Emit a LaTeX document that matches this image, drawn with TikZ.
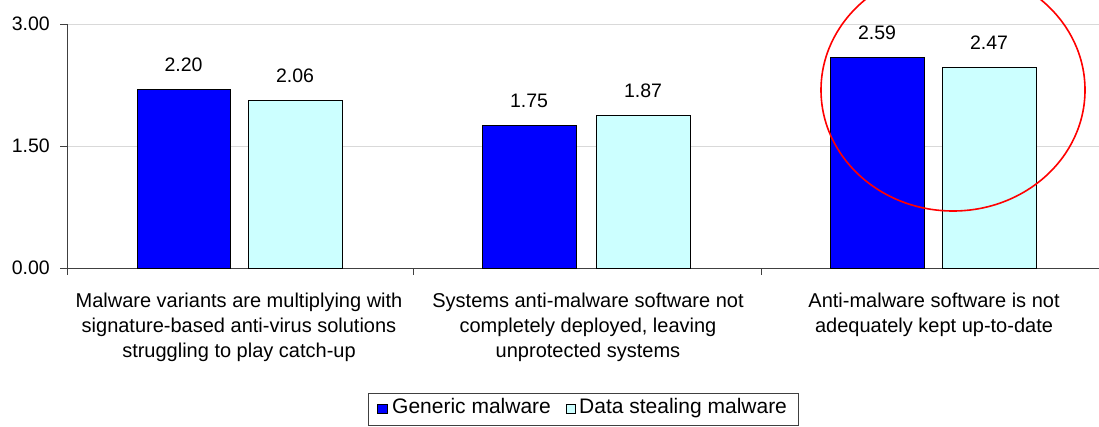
\documentclass[tikz,border=0pt]{standalone}
\usepackage{fontspec}
\setmainfont{Liberation Sans}
\definecolor{generic}{HTML}{0000FF}
\definecolor{stealing}{HTML}{CCFFFF}
\definecolor{gridgray}{HTML}{D9D9D9}
\tikzset{
gridline/.style={draw=gridgray, line width=1pt},
axisline/.style={draw=black!75, line width=1pt},
genericbar/.style={draw=black, line width=1pt, fill=generic},
stealingbar/.style={draw=black, line width=1pt, fill=stealing},
valuelabel/.style={anchor=base, inner sep=0pt, font=\fontsize{19.5}{24}\selectfont},
ticklabel/.style={anchor=east, inner sep=0pt, font=\fontsize{19.5}{24}\selectfont},
catlabel/.style={anchor=north, inner sep=0pt, align=center, font=\fontsize{20}{25}\selectfont},
legendtext/.style={anchor=base west, inner sep=0pt, font=\fontsize{21}{24}\selectfont}
}

\begin{document}
\begin{tikzpicture}[x=1pt, y=-1pt]
  \useasboundingbox (0,0) rectangle (1099,426);
  % grid and axes
  \draw[gridline] (67,24) -- (1099,24);
  \draw[gridline] (67,146) -- (1099,146);
  \draw[axisline] (67,24) -- (67,275);
  \draw[axisline] (67,268) -- (1099,268);
  \draw[axisline] (60,24) -- (67,24);
  \draw[axisline] (60,146) -- (67,146);
  \draw[axisline] (60,268) -- (67,268);
  \draw[axisline] (413,268) -- (413,275);
  \draw[axisline] (761,268) -- (761,275);
  \node[ticklabel] (t3) at (50,24) {3.00};
  \node[ticklabel] (t2) at (50,146) {1.50};
  \node[ticklabel] (t0) at (50,268) {0.00};
  % bars
  \draw[genericbar] (137,268) rectangle (230,89.1);
  \draw[stealingbar] (248,268) rectangle (342,100.5);
  \draw[genericbar] (482,268) rectangle (576,125.7);
  \draw[stealingbar] (596,268) rectangle (690,115.9);
  \draw[genericbar] (830,268) rectangle (924,57.4);
  \draw[stealingbar] (942,268) rectangle (1036,67.1);
  \node[valuelabel] (v1a) at (183.5,71) {2.20};
  \node[valuelabel] (v1b) at (295,82.5) {2.06};
  \node[valuelabel] (v2a) at (529,107.7) {1.75};
  \node[valuelabel] (v2b) at (643,97.9) {1.87};
  \node[valuelabel] (v3a) at (877,39.4) {2.59};
  \node[valuelabel] (v3b) at (989,49.1) {2.47};
  % categories
  \node[catlabel] (c1) at (239,293) {Malware variants are multiplying with\\signature-based anti-virus solutions\\struggling to play catch-up};
  \node[catlabel] (c2) at (588,293) {Systems anti-malware software not\\completely deployed, leaving\\unprotected systems};
  \node[catlabel] (c3) at (934,293) {Anti-malware software is not\\adequately kept up-to-date};
  % highlight
  \draw[red, line width=1.6pt] (953,90) ellipse [x radius=132pt, y radius=121pt];
  % legend
  \draw[black!75, line width=1pt] (368,393) rectangle (798,425);
  \draw[genericbar] (377,404) rectangle (387,413);
  \node[legendtext] (lg) at (392,413) {Generic malware};
  \draw[stealingbar] (566,404) rectangle (575,413);
  \node[legendtext] (ls) at (579,413) {Data stealing malware};
\end{tikzpicture}
\end{document}
